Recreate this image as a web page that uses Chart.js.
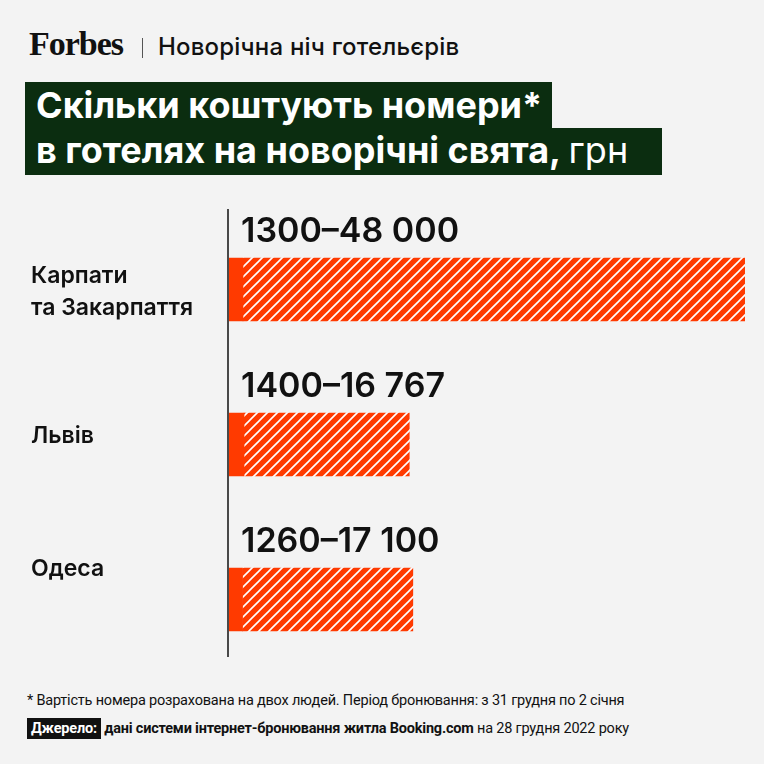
<!DOCTYPE html>
<html>
<head>
<meta charset="utf-8">
<script src="https://cdn.jsdelivr.net/npm/chart.js@4"></script>
<style>
  html, body { margin: 0; padding: 0; }
  body { width: 764px; height: 764px; background: #f3f3f3; position: relative; overflow: hidden; font-family: Inter, "Noto Sans", sans-serif; color: #111; }
  .brand { position: absolute; left: 29px; top: 25px; font-family: "Liberation Serif", "DejaVu Serif", serif; font-weight: bold; font-size: 34px; letter-spacing: -1px; color: #111; }
  .sep { position: absolute; left: 142px; top: 38px; width: 1px; height: 20px; background: #555; }
  .topic { position: absolute; left: 158px; top: 32px; font-size: 24px; font-weight: 500; letter-spacing: 0.2px; }
  .t1, .t2 { position: absolute; left: 25px; background: #0b2d10; color: #fff; font-size: 36px; font-weight: 700; white-space: nowrap; padding-left: 11px; letter-spacing: 0px; }
  .t1 { top: 82px; height: 46px; line-height: 46px; width: 516px; }
  .t2 { top: 128px; height: 47px; line-height: 45px; width: 626px; }
  .t2 span { font-weight: 400; }
  #wrap { position: absolute; left: 0; top: 200px; width: 764px; height: 480px; }
  .note { position: absolute; left: 27px; top: 692px; font-family: Roboto, sans-serif; font-size: 14.5px; letter-spacing: -0.2px; color: #111; }
  .src { position: absolute; left: 27px; top: 720px; font-family: Roboto, sans-serif; font-size: 14.5px; letter-spacing: -0.2px; color: #111; white-space: nowrap; }
  .src .tag { background: #111; color: #fff; font-weight: 700; padding: 2px 4px; }
  .src b { font-weight: 700; }
</style>
</head>
<body>
<div class="brand">Forbes</div>
<div class="sep"></div>
<div class="topic">Новорічна ніч готельєрів</div>
<div class="t1">Скільки коштують номери*</div>
<div class="t2">в готелях на новорічні свята, <span>грн</span></div>
<div id="wrap"><canvas id="chart"></canvas></div>
<div class="note">* Вартість номера розрахована на двох людей. Період бронювання: з 31 грудня по 2 січня</div>
<div class="src"><span class="tag">Джерело:</span> <b>дані системи інтернет-бронювання житла Booking.com</b> на 28 грудня 2022 року</div>

<script>
// data
const categories = [["Карпати", "та Закарпаття"], "Львів", "Одеса"];
const minPrice = [1300, 1400, 1260];
const maxPrice = [48000, 16767, 17100];
const rangeLabels = ["1300–48 000", "1400–16 767", "1260–17 100"];
const axisMax = 48000;

// hatch pattern for the range part
function makeHatch() {
    const c = document.createElement('canvas');
    c.width = 10; c.height = 10;
    const g = c.getContext('2d');
    g.fillStyle = '#ff3a00';
    g.fillRect(0, 0, 10, 10);
    g.strokeStyle = '#ffffff';
    g.lineWidth = 1.6;
    g.beginPath();
    g.moveTo(-2, 12); g.lineTo(12, -2);
    g.moveTo(-2, 2); g.lineTo(2, -2);
    g.moveTo(8, 12); g.lineTo(12, 8);
    g.stroke();
    return g.createPattern(c, 'repeat');
}

// baseline shift of left labels from the category centre (per line)
const labelShift = [[-6.5, 25.5], [-1.5], [-23.5]];

const labelsPlugin = {
    id: 'labels',
    afterDatasetsDraw(chart) {
        const ctx = chart.ctx;
        const xs = chart.scales.x, ys = chart.scales.y;
        const x0 = xs.getPixelForValue(0);
        ctx.save();
        // axis line
        ctx.strokeStyle = '#111';
        ctx.lineWidth = 1.5;
        ctx.beginPath();
        ctx.moveTo(x0 - 1, chart.chartArea.top - 3);
        ctx.lineTo(x0 - 1, chart.chartArea.bottom - 20);
        ctx.stroke();

        // range labels above bars
        const meta = chart.getDatasetMeta(1);
        ctx.fillStyle = '#111';
        ctx.font = '600 34px Inter';
        ctx.textBaseline = 'alphabetic';
        meta.data.forEach((bar, i) => {
            const top = bar.y - bar.height / 2;
            ctx.fillText(rangeLabels[i], x0 + 12, top - 16);
        });

        // category labels
        ctx.font = '600 23px Inter';
        categories.forEach((lab, i) => {
            const lines = Array.isArray(lab) ? lab : [lab];
            const cy = ys.getPixelForValue(i);
            lines.forEach((t, k) => ctx.fillText(t, 31, cy + labelShift[i][k]));
        });
        ctx.restore();
    }
};

new Chart(document.getElementById('chart'), {
    type: 'bar',
    data: {
        labels: categories,
        datasets: [
            {
                label: 'min',
                data: minPrice.map(v => [0, v]),
                backgroundColor: '#ff3a00',
                grouped: false,
                borderSkipped: false
            },
            {
                label: 'range',
                data: minPrice.map((v, i) => [v, maxPrice[i]]),
                backgroundColor: makeHatch(),
                grouped: false,
                borderSkipped: false
            }
        ]
    },
    options: {
        indexAxis: 'y',
        responsive: true,
        maintainAspectRatio: false,
        animation: false,
        layout: { padding: { left: 229, right: 19, top: 12, bottom: 3 } },
        datasets: { bar: { barThickness: 63 } },
        scales: {
            x: { display: false, min: 0, max: axisMax },
            y: { display: false }
        },
        plugins: { legend: { display: false }, tooltip: { enabled: false } }
    },
    plugins: [labelsPlugin]
});
</script>
</body>
</html>
